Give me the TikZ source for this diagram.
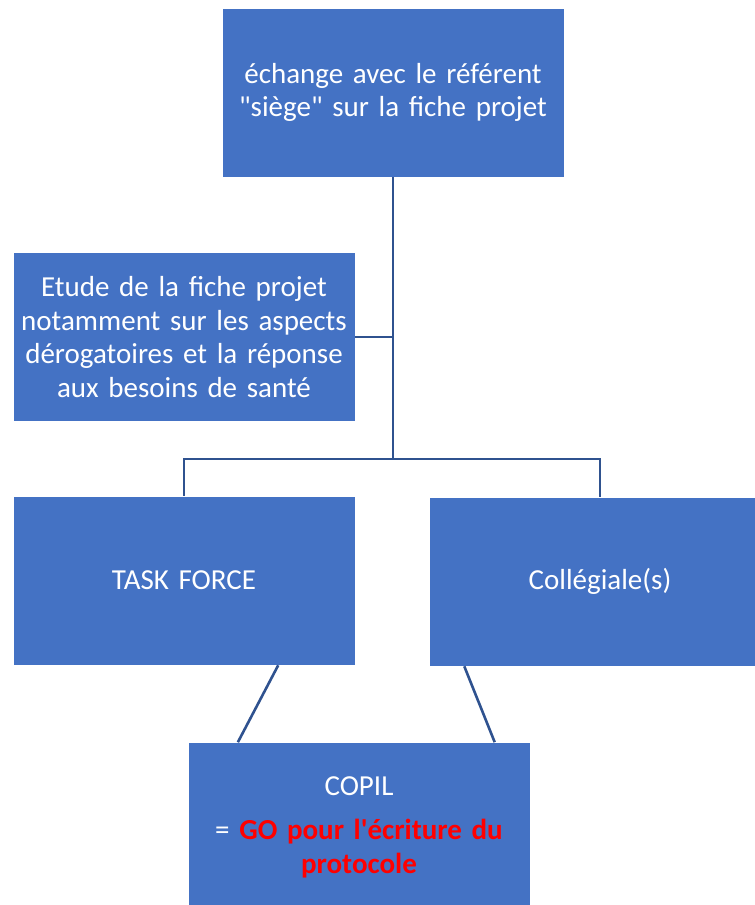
\documentclass[tikz,border=0pt]{standalone}
\usepackage{fontspec}
\setmainfont{Carlito}[Ligatures=TeXOff]
\definecolor{boxblue}{HTML}{4472C4}
\definecolor{linkblue}{HTML}{2F528F}

\begin{document}
\begin{tikzpicture}[x=1pt, y=-1pt,
            box/.style={rectangle, draw=white, line width=0.6pt, fill=boxblue, minimum width=342pt, minimum height=169pt, text width=336pt, align=center, inner sep=0pt, text=white, font=\fontsize{29}{33.5}\selectfont},
            link/.style={draw=linkblue, line width=2.6pt}
            ]
            
            % Page frame
            \clip (0,0) rectangle (755,905);
            
            % Boxes
            \node[box] (siege) at (393,92.5) {échange avec le référent\\"siège" sur la fiche projet};
            \node[box] (etude) at (184,337) {Etude de la fiche projet\\notamment sur les aspects\\dérogatoires et la réponse\\aux besoins de santé};
            \node[box] (task) at (184,580.5) {TASK FORCE};
            \node[box] (coll) at (600,581.5) {Collégiale(s)};
            \node[box] (copil) at (359,827) {COPIL\\[11pt]= \textcolor{red}{\bfseries GO pour l'écriture du\\protocole}};
            
            % Junctions
            \coordinate (split) at (393,459);
            \coordinate (tap) at (393,337);
            
            % Links
            \draw[link] (siege) -- (split);
            \draw[link] (etude) -- (tap);
            \draw[link] (task) |- (split) -| (coll);
            \draw[link] (task.-42) -- (copil.145);
            \draw[link] (coll.-148) -- (copil.32);
            
        \end{tikzpicture}
\end{document}
